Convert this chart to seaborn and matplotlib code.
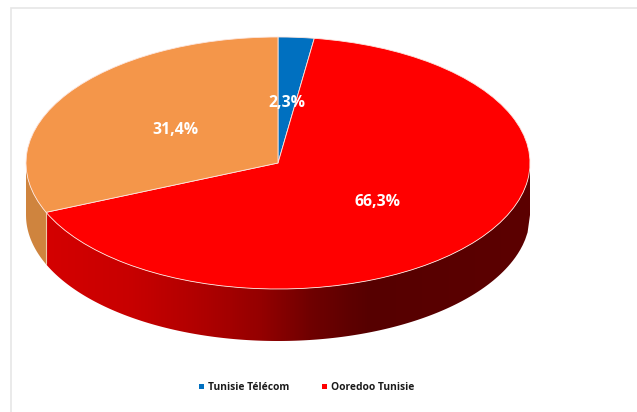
import numpy as np
import seaborn as sns
import matplotlib.pyplot as plt
from matplotlib.colors import LinearSegmentedColormap
from matplotlib.patches import Polygon, Rectangle

operators = ['Tunisie Télécom', 'Ooredoo Tunisie', 'Autre']
shares = [2.3, 66.3, 31.4]
share_labels = ['2,3%', '66,3%', '31,4%']
colors = ['#0070C0', '#FF0000', '#F4964A']
label_pos = [(286.5, 102.5), (377.5, 201.5), (175.5, 130)]
legend_names = ['Tunisie Télécom', 'Ooredoo Tunisie']

sns.set_theme(style='white')
plt.rcParams['font.family'] = ['Open Sans', 'DejaVu Sans']

W, H = 637, 412
cx, cy, rx, ry, depth = 278, 163, 252, 126, 52

fig = plt.figure(figsize=(W / 100, H / 100), dpi=100)
fig.patch.set_facecolor('white')

# fond en coordonnees pixels
bg = fig.add_axes([0, 0, 1, 1])
bg.set_xlim(0, W)
bg.set_ylim(H, 0)
bg.axis('off')

bg.plot([10.5, 10.5, W], [H, 7.5, 7.5], color='#E6E6E6', lw=1.2, solid_joinstyle='miter')


# paroi du cylindre sous le bord de l'ellipse, entre deux abscisses
def wall_outline(x0, x1):
    xs = np.linspace(x0, x1, 200)
    top = cy + ry * np.sqrt(np.clip(1 - ((xs - cx) / rx) ** 2, 0, 1))
    return np.r_[np.c_[xs, top], np.c_[xs[::-1], top[::-1] + depth]]


frac_end = (shares[0] + shares[1]) / 100
split_x = cx + rx * np.sin(2 * np.pi * frac_end)

# paroi orange
orange_wall = Polygon(wall_outline(cx - rx, split_x), closed=True, fc='#CF843E', ec='none')
bg.add_patch(orange_wall)

# paroi rouge en degrade
stops = [(47, '#D40000'), (130, '#C80000'), (200, '#B00000'), (260, '#950000'),
         (310, '#700000'), (370, '#560000'), (530, '#5C0000')]
cmap = LinearSegmentedColormap.from_list(
    'wall', [((x - 47) / (530 - 47), c) for x, c in stops])
red_wall = Polygon(wall_outline(split_x, cx + rx), closed=True, fc='none', ec='none')
bg.add_patch(red_wall)
grad = bg.imshow(np.linspace(0, 1, 500)[None, :], cmap=cmap, aspect='auto',
                 extent=(split_x, cx + rx, cy + ry + depth + 2, cy - 2), zorder=2)
grad.set_clip_path(red_wall)
bg.set_xlim(0, W)
bg.set_ylim(H, 0)

# separation orange / rouge sur la paroi
sy = cy - ry * np.cos(2 * np.pi * frac_end)
bg.plot([split_x, split_x], [sy, sy + depth], color='#F0C8A8', lw=0.8, zorder=3)

# dessus du camembert (ellipse obtenue par un axe non carre)
pie_ax = fig.add_axes([(cx - rx) / W, 1 - (cy + ry) / H, 2 * rx / W, 2 * ry / H])
pie_ax.pie(shares, colors=colors, startangle=90, counterclock=False, radius=1,
           wedgeprops=dict(edgecolor='#FDE6DF', linewidth=0.6))
pie_ax.set_aspect('auto')
pie_ax.set_xlim(-1, 1)
pie_ax.set_ylim(-1, 1)
pie_ax.patch.set_alpha(0)

# etiquettes par-dessus
top = fig.add_axes([0, 0, 1, 1])
top.set_xlim(0, W)
top.set_ylim(H, 0)
top.axis('off')
for (x, y), s in zip(label_pos, share_labels):
    top.text(x, y, s, color='white', fontsize=11.4, fontweight='bold', ha='center', va='center')

# legende
for x, c, name in zip([199, 322], colors[:2], legend_names):
    top.add_patch(Rectangle((x, 384), 5, 5, fc=c, ec='none'))
    top.text(x + 9, 387, name, color='#1A1A1A', fontsize=7.4, fontweight='bold', ha='left', va='center')

fig.savefig('out.png', dpi=100)
